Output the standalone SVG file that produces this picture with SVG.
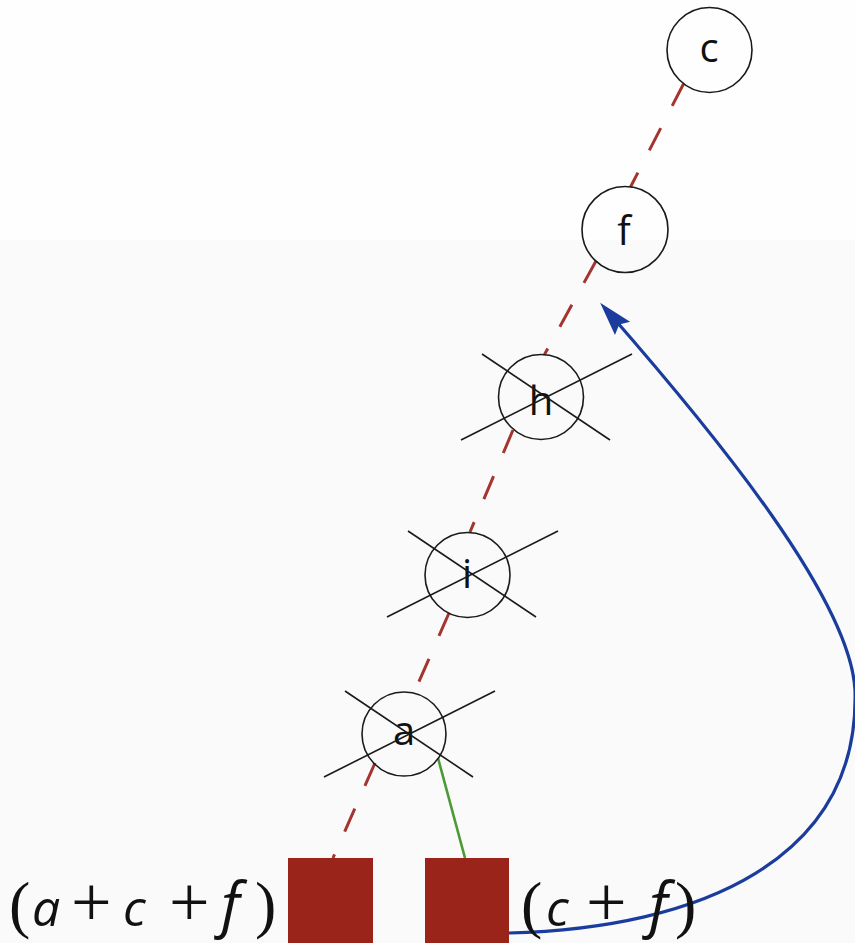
<svg xmlns="http://www.w3.org/2000/svg" xmlns:xlink="http://www.w3.org/1999/xlink" width="855" height="943" viewBox="0 0 855 943">
  <style>
    .node circle { fill: none; stroke: #1a1a1a; stroke-width: 1.6; }
    .lbl { font-family: "Open Sans", "Liberation Sans", sans-serif; font-size: 40px; fill: #111; text-anchor: middle; }
    .cross line { stroke: #1a1a1a; stroke-width: 1.6; }
    .dash { stroke: #a5342e; stroke-width: 3; stroke-dasharray: 25 25; fill: none; }
    .green { stroke: #4a9a35; stroke-width: 2.6; fill: none; }
    .blue { stroke: #1a3c9c; stroke-width: 3.2; fill: none; }
    .box { fill: #9a2419; }
    .math { fill: #111; font-family: "Liberation Serif", serif; font-size: 64px; }
    .it { font-family: "Open Sans", "Liberation Sans", sans-serif; font-style: italic; }
  </style>
  <defs>
    <g id="cross" class="cross">
      <line x1="-59" y1="-43" x2="69" y2="43"/>
      <line x1="-80" y1="43" x2="91" y2="-43"/>
    </g>
    <marker id="arrow" markerUnits="userSpaceOnUse" markerWidth="40" markerHeight="30" refX="0" refY="0" orient="auto" overflow="visible">
      <path d="M15,0 L-19,-10 L-14,0 L-19,10 Z" fill="#1a3c9c"/>
    </marker>
  </defs>

  <rect x="0" y="0" width="855" height="943" fill="#fafafa"/>
  <rect x="0" y="0" width="855" height="240" fill="#fefefe"/>

  <g id="connectors">
    <line class="dash" x1="683.6" y1="83.7" x2="630.5" y2="187"/>
    <line class="dash" x1="596" y1="261" x2="544.5" y2="354.5"/>
    <line class="dash" x1="513" y1="430" x2="470" y2="532"/>
    <line class="dash" x1="449" y1="613" x2="414" y2="693"/>
    <line class="dash" x1="375" y1="763" x2="333" y2="858"/>
    <line class="green" x1="438" y1="758" x2="465" y2="858"/>
    <path class="blue" d="M509,933 C700,928 860,860 855,690 C850,600 720,440 610,314" marker-end="url(#arrow)"/>
  </g>

  <g id="node-c" class="node">
    <circle cx="709.5" cy="50" r="42.5"/>
    <text class="lbl" x="709" y="62">c</text>
  </g>
  <g id="node-f" class="node">
    <circle cx="625" cy="229.5" r="43"/>
    <text class="lbl" x="624" y="245">f</text>
  </g>
  <g id="node-h" class="node">
    <circle cx="541" cy="397" r="42.5"/>
    <text class="lbl" x="541" y="415">h</text>
    <use xlink:href="#cross" x="541" y="397"/>
  </g>
  <g id="node-i" class="node">
    <circle cx="467.5" cy="575" r="42.5"/>
    <text class="lbl" x="467" y="588">i</text>
    <use xlink:href="#cross" x="467" y="574"/>
  </g>
  <g id="node-a" class="node">
    <circle cx="404" cy="734" r="42"/>
    <text class="lbl" x="404" y="745">a</text>
    <use xlink:href="#cross" x="404" y="734"/>
  </g>

  <g id="box-1">
    <rect class="box" x="288" y="858" width="85" height="85"/>
    <text class="math" y="926"><tspan x="9">(</tspan><tspan class="it" x="32" font-size="50">a</tspan><tspan x="71" font-size="72">+</tspan><tspan class="it" x="123" font-size="50">c</tspan><tspan x="169" font-size="72">+</tspan><tspan class="it" x="221" font-size="60">f</tspan><tspan x="255">)</tspan></text>
  </g>
  <g id="box-2">
    <rect class="box" x="425" y="858" width="84" height="85"/>
    <text class="math" y="926"><tspan x="521">(</tspan><tspan class="it" x="546" font-size="50">c</tspan><tspan x="586" font-size="72">+</tspan><tspan class="it" x="649" font-size="60">f</tspan><tspan x="675">)</tspan></text>
  </g>
</svg>
